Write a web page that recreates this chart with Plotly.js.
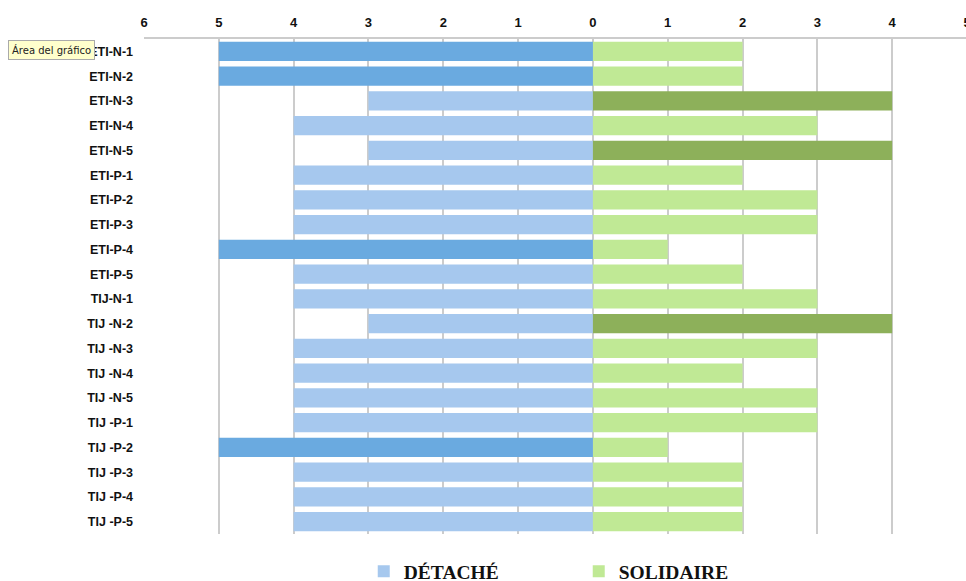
<!DOCTYPE html>
<html><head><meta charset="utf-8">
<script src="https://cdn.plot.ly/plotly-3.0.1.min.js"></script>
<style>html,body{margin:0;padding:0;overflow:hidden;background:#fff}#chart{width:972px;height:600px}</style>
</head><body><div id="chart"></div>
<script>
const categories = ["ETI-N-1","ETI-N-2","ETI-N-3","ETI-N-4","ETI-N-5","ETI-P-1","ETI-P-2","ETI-P-3","ETI-P-4","ETI-P-5",
  "TIJ-N-1","TIJ -N-2","TIJ -N-3","TIJ -N-4","TIJ -N-5","TIJ -P-1","TIJ -P-2","TIJ -P-3","TIJ -P-4","TIJ -P-5"];
const detache = [5,5,3,4,3,4,4,4,5,4,4,3,4,4,4,4,5,4,4,4];
const solidaire = [2,2,4,3,4,2,3,3,1,2,3,4,3,2,3,3,1,2,2,2];
const tickVals = [-6,-5,-4,-3,-2,-1,0,1,2,3,4,5];
const tickText = ["6","5","4","3","2","1","0","1","2","3","4","5"];

const dMax = Math.max(...detache), sMax = Math.max(...solidaire);
const common = {type:'bar', orientation:'h', y:categories, hoverinfo:'skip'};
const traces = [
  Object.assign({}, common, {name:'DÉTACHÉ', x:detache.map(v=>v<dMax?-v:null), marker:{color:'#a6c8ee'}}),
  Object.assign({}, common, {name:'SOLIDAIRE', x:solidaire.map(v=>v<sMax?v:null), marker:{color:'#c0e995'}}),
  Object.assign({}, common, {name:'DÉTACHÉ max', showlegend:false, x:detache.map(v=>v===dMax?-v:null), marker:{color:'#6aaae0'}}),
  Object.assign({}, common, {name:'SOLIDAIRE max', showlegend:false, x:solidaire.map(v=>v===sMax?v:null), marker:{color:'#8db05a'}})
];

const layout = {
  width:972, height:600,
  margin:{l:144, r:5, t:38.6, b:65.6, autoexpand:false},
  paper_bgcolor:'#fff', plot_bgcolor:'#fff',
  barmode:'overlay', bargap:0.23,
  showlegend:true,
  legend:{orientation:'h', x:0.267, xanchor:'left', y:-0.076, yanchor:'middle',
    font:{family:'"Liberation Serif", serif', size:19.5, color:'#111', weight:'bold'},
    entrywidth:170, itemwidth:30, traceorder:'normal'},
  xaxis:{side:'top', range:[-6,5], tickvals:tickVals, ticktext:tickText,
    showgrid:true, gridcolor:'#cccccc', gridwidth:2, zeroline:false,
    showline:true, linecolor:'#cccccc', linewidth:2, mirror:false, ticklabelstandoff:5,
    ticks:'', tickfont:{family:'"Liberation Sans", Arial, sans-serif', size:13, color:'#111', weight:'bold'}, fixedrange:true},
  yaxis:{autorange:'reversed', type:'category', showgrid:false, zeroline:false, showline:false, ticks:'',
    ticklabelstandoff:10,
    tickfont:{family:'"Liberation Sans", Arial, sans-serif', size:12.5, color:'#111', weight:'bold'}},
  annotations:[{text:'Área del gráfico', xref:'paper', yref:'paper', x:-0.165, y:0.997, xanchor:'left', yanchor:'top',
    showarrow:false, bgcolor:'#ffffcc', bordercolor:'#aaaaaa', borderwidth:1, borderpad:3,
    font:{family:'"DejaVu Sans", sans-serif', size:10, color:'#222'}}]
};
Plotly.newPlot('chart', traces, layout, {displayModeBar:false, staticPlot:true});
</script></body></html>
